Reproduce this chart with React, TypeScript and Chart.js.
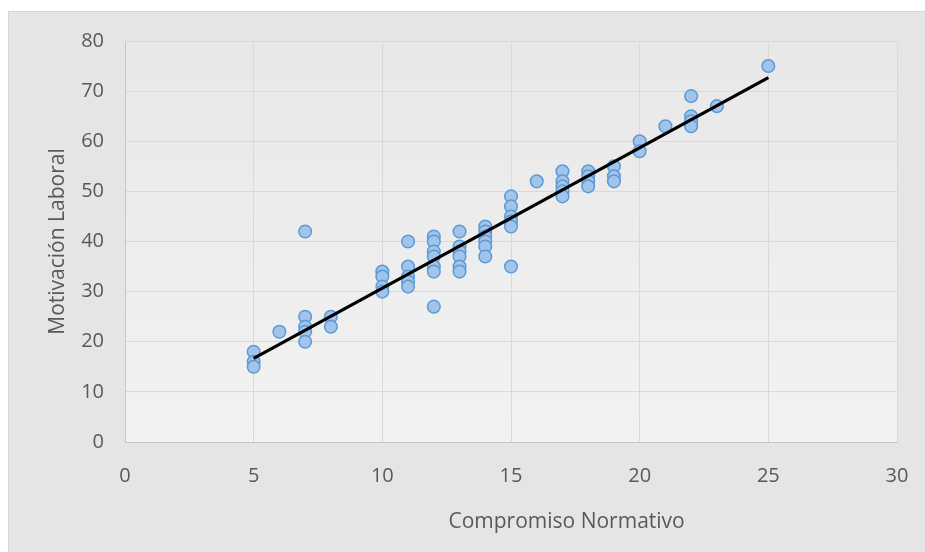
import React, { useEffect, useRef } from "react";
import { Chart, registerables } from "chart.js";

Chart.register(...registerables);

const compromiso: number[] = [
  5, 5, 5,
  6,
  7, 7, 7, 7, 7,
  8, 8,
  10, 10, 10, 10,
  11, 11, 11, 11, 11,
  12, 12, 12, 12, 12, 12, 12,
  13, 13, 13, 13, 13, 13,
  14, 14, 14, 14, 14, 14,
  15, 15, 15, 15, 15, 15,
  16,
  17, 17, 17, 17, 17,
  18, 18, 18, 18,
  19, 19, 19,
  20, 20,
  21,
  22, 22, 22, 22,
  23,
  25,
];

const motivacion: number[] = [
  18, 16, 15,
  22,
  42, 25, 23, 22, 20,
  25, 23,
  34, 33, 31, 30,
  40, 35, 33, 32, 31,
  41, 40, 38, 37, 35, 34, 27,
  42, 39, 38, 37, 35, 34,
  43, 42, 41, 40, 39, 37,
  49, 47, 45, 44, 43, 35,
  52,
  54, 52, 51, 50, 49,
  54, 53, 52, 51,
  55, 53, 52,
  60, 58,
  63,
  69, 65, 64, 63,
  67,
  75,
];

const trendX: number[] = [5, 25];
const trendY: number[] = [16.7, 72.7];

const xTicks: number[] = [0, 5, 10, 15, 20, 25, 30];
const yTicks: number[] = [0, 10, 20, 30, 40, 50, 60, 70, 80];

const xTitle = "Compromiso Normativo";
const yTitle = "Motivación Laboral";

const FONT = "'Open Sans', sans-serif";

export default function App() {
  const ref = useRef<HTMLCanvasElement | null>(null);

  useEffect(() => {
    if (!ref.current) return;

    const bgPlugin = {
      id: "plotBg",
      beforeDraw(chart: any) {
        const { ctx, chartArea: a } = chart;
        const g = ctx.createLinearGradient(0, a.top, 0, a.bottom);
        g.addColorStop(0, "#e8e8e8");
        g.addColorStop(1, "#f2f2f2");
        ctx.save();
        ctx.fillStyle = g;
        ctx.fillRect(a.left, a.top, a.right - a.left, a.bottom - a.top);
        ctx.restore();
      },
    };

    const titlePlugin = {
      id: "axisTitles",
      afterDraw(chart: any) {
        const { ctx, chartArea: a } = chart;
        ctx.save();
        ctx.fillStyle = "#595959";
        ctx.font = "21px " + FONT;
        ctx.textAlign = "center";
        ctx.textBaseline = "middle";
        ctx.fillText(xTitle, a.left + (a.right - a.left) * 0.572, 510);
        ctx.translate(49, (a.top + a.bottom) / 2);
        ctx.rotate(-Math.PI / 2);
        ctx.fillText(yTitle, 0, 0);
        ctx.restore();
      },
    };

    const chart = new Chart(ref.current, {
      type: "scatter",
      data: {
        datasets: [
          {
            label: "Motivación Laboral",
            data: compromiso.map((x, i) => ({ x, y: motivacion[i] })),
            backgroundColor: "#a2c4ea",
            borderColor: "#5b9bd5",
            borderWidth: 1.5,
            pointRadius: 6.3,
            pointHoverRadius: 6.3,
            order: 2,
          },
          {
            type: "line",
            label: "Lineal",
            data: trendX.map((x, i) => ({ x, y: trendY[i] })),
            borderColor: "#000000",
            borderWidth: 3.2,
            pointRadius: 0,
            fill: false,
            order: 1,
          } as any,
        ],
      },
      options: {
        responsive: false,
        animation: false,
        layout: { padding: { left: 0, top: 29, right: 28, bottom: 0 } },
        plugins: {
          legend: { display: false },
          tooltip: { enabled: false },
        },
        scales: {
          x: {
            type: "linear",
            min: 0,
            max: 30,
            afterBuildTicks: (s: any) => {
              s.ticks = xTicks.map((v) => ({ value: v }));
            },
            afterFit: (s: any) => {
              s.height = 110;
            },
            grid: {
              color: "#d9d9d9",
              lineWidth: 1,
              drawTicks: true,
              tickLength: 22,
              tickColor: "rgba(0,0,0,0)",
            },
            border: { color: "#c6c6c6", width: 1 },
            ticks: {
              color: "#595959",
              font: { family: FONT, size: 20 },
              padding: 0,
              maxRotation: 0,
            },
          },
          y: {
            type: "linear",
            min: 0,
            max: 80,
            afterBuildTicks: (s: any) => {
              s.ticks = yTicks.map((v) => ({ value: v }));
            },
            afterFit: (s: any) => {
              s.width = 116;
            },
            grid: {
              color: "#d9d9d9",
              lineWidth: 1,
              drawTicks: true,
              tickLength: 21,
              tickColor: "rgba(0,0,0,0)",
            },
            border: { color: "#c6c6c6", width: 1 },
            ticks: {
              color: "#595959",
              font: { family: FONT, size: 20 },
              padding: 0,
            },
          },
        },
      },
      plugins: [bgPlugin, titlePlugin],
    });

    return () => chart.destroy();
  }, []);

  return (
    <div
      style={{
        position: "absolute",
        left: 8,
        top: 11,
        width: 916,
        height: 540,
        background: "#e5e5e5",
        borderLeft: "1px solid #d6d6d6",
        borderTop: "1px solid #d6d6d6",
      }}
    >
      <canvas ref={ref} width={916} height={540} style={{ display: "block" }} />
    </div>
  );
}
